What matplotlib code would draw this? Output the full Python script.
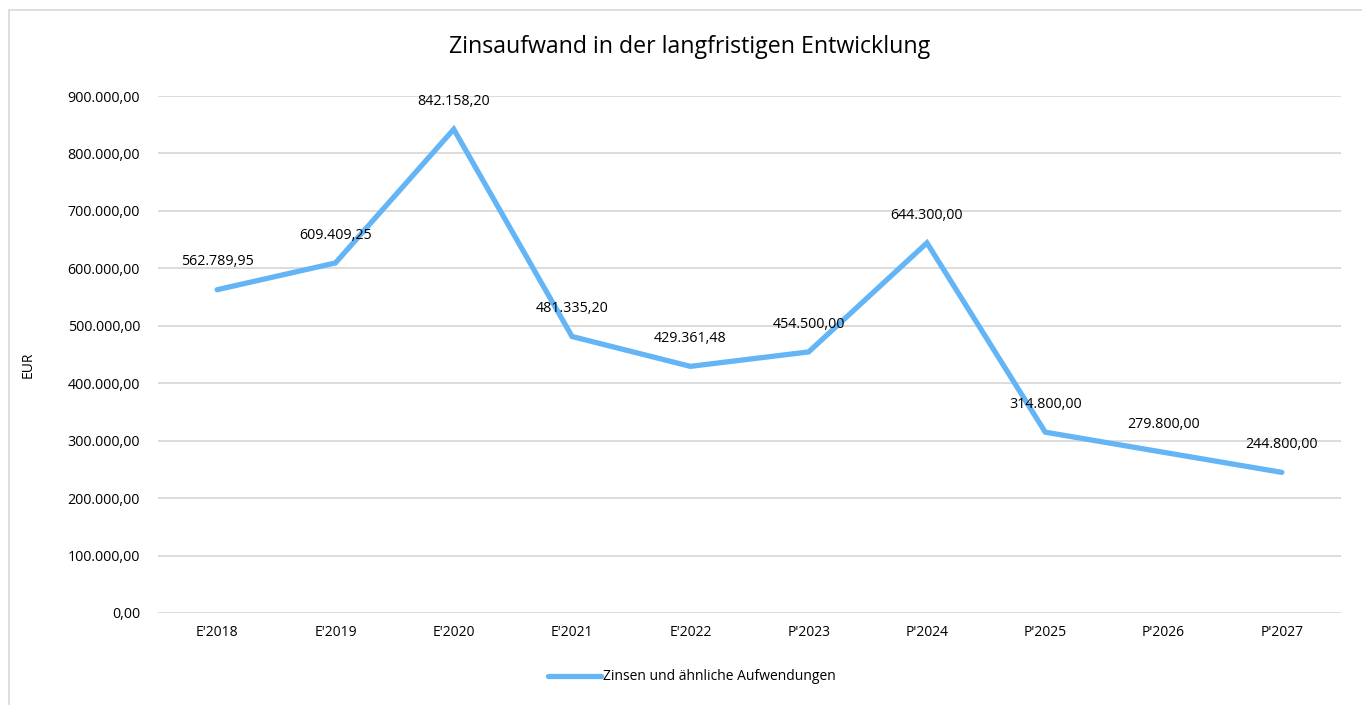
import matplotlib
matplotlib.use("Agg")
import matplotlib.pyplot as plt
from matplotlib.lines import Line2D

categories = ["E'2018", "E'2019", "E'2020", "E'2021", "E'2022",
              "P'2023", "P'2024", "P'2025", "P'2026", "P'2027"]
zinsen = [562789.95, 609409.25, 842158.20, 481335.20, 429361.48,
          454500.00, 644300.00, 314800.00, 279800.00, 244800.00]
series_name = "Zinsen und ähnliche Aufwendungen"
yticks = [0, 100000, 200000, 300000, 400000, 500000, 600000, 700000, 800000, 900000]

LINE = "#64B5F6"
GRID = "#D9D9D9"
FONT = ["Open Sans", "DejaVu Sans"]
plt.rcParams["font.family"] = FONT


def de(v):
    s = f"{v:,.2f}"
    return s.replace(",", "X").replace(".", ",").replace("X", ".")


W, H = 1362, 705
fig = plt.figure(figsize=(W / 100, H / 100), dpi=100)
fig.patch.set_facecolor("white")

# outer chart frame (only top and left edge visible)
fig.add_artist(Line2D([9 / W, 1], [1 - 10 / H, 1 - 10 / H], transform=fig.transFigure, color=GRID, lw=1.2))
fig.add_artist(Line2D([9 / W, 9 / W], [0, 1 - 10 / H], transform=fig.transFigure, color=GRID, lw=1.2))

ax = fig.add_axes([158 / W, (H - 613) / H, (1341 - 158) / W, (613 - 96) / H])
x = list(range(len(categories)))
ax.plot(x, zinsen, color=LINE, lw=3.8, solid_capstyle="round", solid_joinstyle="miter", zorder=3)

for xi, v in zip(x, zinsen):
    ax.annotate(de(v), (xi, v), xytext=(0, 20), textcoords="offset points",
                ha="center", va="center", fontsize=10.3, color="#000000", zorder=4)

ax.set_xlim(-0.5, len(categories) - 0.5)
ax.set_ylim(0, 900000)
ax.set_yticks(yticks)
ax.set_yticklabels([de(t) for t in yticks], fontsize=10.3, color="#000000")
ax.set_xticks(x)
ax.set_xticklabels(categories, fontsize=10, color="#000000")
ax.tick_params(length=0)
ax.tick_params(axis="y", pad=13)
ax.tick_params(axis="x", pad=9)
ax.grid(axis="y", color=GRID, lw=1.3)
ax.set_axisbelow(True)
for s in ax.spines.values():
    s.set_visible(False)

ax.set_ylabel("EUR", fontsize=10, color="#000000")
ax.yaxis.set_label_coords(-122 / (1341 - 158), 0.48)

fig.text(690 / W, 1 - 47 / H, "Zinsaufwand in der langfristigen Entwicklung",
         ha="center", va="center", fontsize=16.7, color="#000000")

handle = Line2D([], [], color=LINE, lw=3.8, solid_capstyle="round")
fig.legend([handle], [series_name], loc="center", bbox_to_anchor=(692 / W, 1 - 677 / H),
           frameon=False, fontsize=10, handlelength=3.8, handletextpad=0.2)

fig.savefig("out.png", dpi=100, facecolor="white")
